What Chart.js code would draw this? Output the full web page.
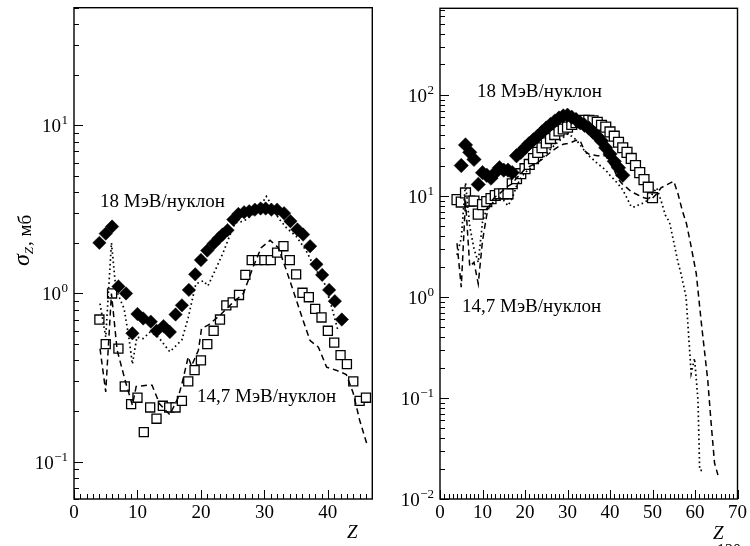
<!DOCTYPE html>
<html><head><meta charset="utf-8">
<script src="https://cdn.jsdelivr.net/npm/chart.js@4"></script>
<style>
html,body{margin:0;padding:0;background:#fff;}
#wrap{position:relative;width:750px;height:546px;overflow:hidden;background:#fff;}
canvas{position:absolute;top:0;}
</style></head><body>
<div id="wrap">
<canvas id="c1" width="380" height="546" style="left:0;width:380px;height:546px"></canvas>
<canvas id="c2" width="370" height="546" style="left:380px;width:370px;height:546px"></canvas>
</div>
<script>
// ---------- Left panel data ----------
const leftDiamondZ = [4,5,6,7,8.2,9.2,10,10.9,12.1,13,14.1,15.1,16,17,18.1,19.1,20,21,22,22.8,23.4,24.2,25.1,25.9,26.8,27.6,28.5,29.4,30.2,31.1,32,33.1,34.1,35.2,36.1,37.2,38.2,39.1,40.2,41.1,42.2];
const leftDiamondSigma = [2.0,2.27,2.5,1.1,1.0,0.58,0.755,0.71,0.68,0.60,0.64,0.59,0.75,0.85,1.05,1.3,1.58,1.8,1.98,2.13,2.24,2.38,2.75,2.97,3.04,3.08,3.15,3.2,3.2,3.15,3.15,3.0,2.69,2.4,2.24,1.91,1.49,1.29,1.05,0.9,0.70];
const leftSquareZ = [4,5,6,7,8,9,10,11,12,13,14,15,16,17,18,19,20,21,22,23,24,25,26,27,28,29,30,31,32,33,34,35,36,37,38,39,40,41,42,43,44,45,46];
const leftSquareSigma = [0.70,0.50,1.0,0.47,0.28,0.22,0.24,0.15,0.21,0.18,0.215,0.21,0.21,0.23,0.30,0.35,0.40,0.50,0.60,0.70,0.85,0.885,0.98,1.29,1.58,1.58,1.58,1.58,1.75,1.91,1.58,1.30,1.01,0.95,0.81,0.72,0.60,0.51,0.43,0.38,0.30,0.23,0.24];
const leftDottedZ = [4.1,5,5.9,6.6,7.9,8.7,9.2,9.9,10.9,12,13.3,15.1,17,18,19.2,20.4,21.1,22.2,23.5,24.6,25.4,26.7,28.2,29.5,30.3,31.1,32.2,33.5,35,36.6,37.9,39.5,40.6,41.6];
const leftDottedSigma = [0.87,0.55,2.0,1.06,0.81,0.53,0.38,0.55,0.54,0.59,0.55,0.45,0.53,0.72,1.14,1.19,1.11,1.36,1.75,2.24,2.63,2.69,2.94,3.37,3.78,3.37,2.81,2.45,2.19,1.79,1.43,1.14,0.83,0.60];
const leftDashedZ = [4.1,5,5.9,6.8,8.1,9.2,9.8,11.5,12.3,13.5,15.1,16.4,17,18,18.5,19.6,20.1,21.2,23.2,25,26.7,28.2,29.5,30.9,32.2,33.5,34.8,36.1,37.2,38.5,39.8,41.3,42.9,44,45,46.1];
const leftDashedSigma = [0.47,0.26,1.0,0.46,0.30,0.217,0.28,0.285,0.285,0.22,0.19,0.24,0.29,0.42,0.37,0.46,0.62,0.65,0.755,0.88,1.0,1.43,1.87,2.07,1.87,1.36,0.97,0.69,0.525,0.48,0.365,0.35,0.33,0.255,0.177,0.129];

// ---------- Right panel data ----------
const rightDiamondZ = [5,6,7,8,9,10,11,12,13,14,15,16,17,18,19,20,21,22,23,24,25,26,27,28,29,30,31,32,33,34,35,36,37,38,39,40,41,42,43];
const rightDiamondSigma = [20,32,27,23,13,17,16,15,17,19,18,18,17,25,27,30,33,36,39,43,47,51,55,59,62,63,60,57,53,50,47,43,39,35,30,26,22,19,16];
const rightSquareZ = [4,5,6,7,8,9,10,11,12,13,14,15,16,17,18,19,20,21,22,23,24,25,26,27,28,29,30,31,32,33,34,35,36,37,38,39,40,41,42,43,44,45,46,47,48,49,50];
const rightSquareSigma = [9.2,8.7,10.7,8.9,8.9,6.6,8.2,8.8,9.4,10.1,10.5,10.5,10.5,13.2,14.8,16.6,18.6,20.5,23.4,27,30,33.5,37,40.5,44,46,48,51,53,55,56,56,55.5,53.5,50,48,43,39,34,30,27,23.5,20,17,14.5,12.2,9.6];
const rightDottedZ = [4,5,6,7,8,9,10,11,12,13,14,15,16,17,18,19,20,21,22,23,24,25,26,27,28,29,30,31,32,33,34,35,36,37,38,39,40,41,42,43,44,45,46,47,48,49,50,51,52,53,54,55,56,56.7,57.9,59.1,59.9,60.7,61.1,62.3];
const rightDottedSigma = [2.6,3.8,13.5,5,3.0,2.2,5.5,7.5,8.2,9.2,9.6,9.0,8.0,9.5,12.5,15,17,18.5,20,21.5,23.5,26,29,32,35,38,41,39,36,32,28,25,23,21,19.5,18,16,14.5,13,11.5,9.5,7.8,7.8,8.3,8.5,9.2,10.5,12,9,6.5,5.5,3.5,2.2,1.7,1.0,0.175,0.247,0.095,0.0194,0.0187];
const rightDashedZ = [4,5,6,7,8,9,10,11,12,13,14,15,16,17,18,19,20,21,22,23,24,25,26,27,28,29,30,31,32,33,34,35,36,37,38,39,40,41,42,43,44,45,46,47,48,49,50,51,52,53,54,55,56,57,58,59,60.3,61.5,63,63.8,64.6,65.4];
const rightDashedSigma = [3.4,1.25,9.0,2.0,2.2,1.35,3.6,6.5,8.8,9.8,10.5,11.5,12.5,13.2,15,16.5,18.5,19.5,20.5,21.5,23,25,27,29,31,32.5,33,34,35.5,35,28,26,25.5,25,25,25,21,18,14.5,13,12,11,10.5,10,9.6,9.4,9.5,10.5,12,12.7,13.3,14,10.5,7.2,5.3,3.3,1.7,0.55,0.15,0.056,0.0226,0.0173];

// ---------- Axis / tick data ----------
const leftXTicks = [0,10,20,30,40];
const rightXTicks = [0,10,20,30,40,50,60,70];
const leftYDecades = [-1,0,1];
const rightYDecades = [-2,-1,0,1,2];
const labelHigh = '18 МэВ/нуклон';
const labelLow = '14,7 МэВ/нуклон';

const SERIF = '"Liberation Serif", "DejaVu Serif", serif';
const pts = (xs, ys) => xs.map((x, i) => ({x: x, y: ys[i]}));

const decor = {
  id: 'decor',
  afterDraw(chart, args, o) {
    const ctx = chart.ctx, a = chart.chartArea, xs = chart.scales.x, ys = chart.scales.y;
    ctx.save();
    ctx.strokeStyle = '#000';
    ctx.fillStyle = '#000';
    ctx.lineWidth = 1;
    ctx.beginPath();
    const kmin = Math.floor(Math.log10(ys.min) + 1e-9), kmax = Math.floor(Math.log10(ys.max) + 1e-9);
    for (let k = kmin; k <= kmax; k++) {
      for (let m = 1; m <= 9; m++) {
        const v = m * Math.pow(10, k);
        if (v < ys.min * 0.999 || v > ys.max * 1.001) continue;
        const py = Math.round(ys.getPixelForValue(v)) + 0.5;
        ctx.moveTo(a.left, py);
        ctx.lineTo(a.left + (m === 1 ? 9 : 5), py);
      }
    }
    for (let z = Math.ceil(xs.min); z <= xs.max; z++) {
      const px = Math.round(xs.getPixelForValue(z)) + 0.5;
      ctx.moveTo(px, a.bottom);
      ctx.lineTo(px, a.bottom - (z % 10 === 0 ? 9 : 5));
    }
    ctx.stroke();
    ctx.lineWidth = 1.4;
    ctx.strokeRect(a.left, a.top, a.right - a.left, a.bottom - a.top);
    ctx.textBaseline = 'alphabetic';
    for (const k of o.decades) {
      const py = ys.getPixelForValue(Math.pow(10, k));
      const exp = (k < 0 ? '\u2212' : '') + Math.abs(k);
      ctx.font = '13px ' + SERIF;
      ctx.textAlign = 'right';
      const ex = a.left - 6;
      ctx.fillText(exp, ex, py - 1);
      const ew = ctx.measureText(exp).width;
      ctx.font = '19px ' + SERIF;
      ctx.fillText('10', ex - ew - 0.5, py + 7);
    }
    ctx.textAlign = 'left';
    ctx.font = '19px ' + SERIF;
    for (const t of o.texts) ctx.fillText(t.s, t.x, t.y);
    ctx.font = 'italic 19px ' + SERIF;
    ctx.fillText('Z', o.zx, o.zy);
    if (o.page) { ctx.font = '16px ' + SERIF; ctx.fillText('120', o.page.x, o.page.y); }
    if (o.ytitle) {
      ctx.translate(31, 266);
      ctx.rotate(-Math.PI / 2);
      ctx.textAlign = 'left';
      ctx.font = 'italic 24px ' + SERIF;
      ctx.fillText('\u03C3', 0, -2);
      let w = ctx.measureText('\u03C3').width;
      ctx.font = 'italic 13px ' + SERIF;
      ctx.fillText('Z', w, 2);
      w += ctx.measureText('Z').width + 1;
      ctx.font = '19px ' + SERIF;
      ctx.fillText(', мб', w, 0);
    }
    ctx.restore();
  }
};

function makeChart(id, cfg) {
  const lineDs = (label, data, dash, w) => ({
    label, data, showLine: true, fill: false, borderColor: '#000', borderWidth: w,
    borderDash: dash, pointRadius: 0, pointHoverRadius: 0, tension: 0
  });
  return new Chart(document.getElementById(id), {
    type: 'scatter',
    data: {
      datasets: [
        lineDs('18 dotted', cfg.dotted, [1.6, 3], 1.7),
        lineDs('14.7 dashed', cfg.dashed, [6, 4], 1.5),
        { label: '18 МэВ/нуклон', data: cfg.diamonds, pointStyle: 'rectRot', pointRadius: cfg.dr,
          backgroundColor: '#000', borderColor: '#000', borderWidth: 0.5, showLine: false },
        { label: '14,7 МэВ/нуклон', data: cfg.squares, pointStyle: 'rect', pointRadius: cfg.sr,
          backgroundColor: '#fff', borderColor: '#000', borderWidth: 1.3, showLine: false }
      ]
    },
    options: {
      responsive: false, animation: false, events: [],
      layout: { padding: { left: 0, right: cfg.padRight, top: 5, bottom: 0 } },
      plugins: { legend: { display: false }, tooltip: { enabled: false }, decor: cfg.decor },
      scales: {
        x: {
          type: 'linear', min: 0, max: cfg.xmax,
          afterBuildTicks: s => { s.ticks = cfg.xticks.map(v => ({ value: v })); },
          afterFit: s => { s.height = 47; },
          grid: { display: false, drawTicks: false }, border: { display: false },
          ticks: { color: '#000', font: { family: SERIF, size: 19 }, padding: 3, maxRotation: 0, autoSkip: false }
        },
        y: {
          type: 'logarithmic', min: cfg.ymin, max: cfg.ymax,
          afterFit: s => { s.width = cfg.yw; },
          grid: { display: false, drawTicks: false }, border: { display: false },
          ticks: { display: false }
        }
      }
    },
    plugins: [decor]
  });
}

makeChart('c1', {
  dotted: pts(leftDottedZ, leftDottedSigma), dashed: pts(leftDashedZ, leftDashedSigma),
  diamonds: pts(leftDiamondZ, leftDiamondSigma), squares: pts(leftSquareZ, leftSquareSigma),
  dr: 6.7, sr: 6.4,
  xmax: 47, xticks: leftXTicks, ymin: 0.06, ymax: 50, yw: 74, padRight: 7,
  decor: { decades: leftYDecades, ytitle: true, zx: 347, zy: 538,
    texts: [{ s: labelHigh, x: 100, y: 207 }, { s: labelLow, x: 197, y: 402 }] }
});
makeChart('c2', {
  dotted: pts(rightDottedZ, rightDottedSigma), dashed: pts(rightDashedZ, rightDashedSigma),
  diamonds: pts(rightDiamondZ, rightDiamondSigma), squares: pts(rightSquareZ, rightSquareSigma),
  dr: 7.2, sr: 7.0,
  xmax: 70, xticks: rightXTicks, ymin: 0.01, ymax: 720, yw: 60, padRight: 11,
  decor: { decades: rightYDecades, ytitle: false, zx: 333, zy: 539, page: { x: 337, y: 555 },
    texts: [{ s: labelHigh, x: 97, y: 97 }, { s: labelLow, x: 82, y: 312 }] }
});
</script>
</body></html>
